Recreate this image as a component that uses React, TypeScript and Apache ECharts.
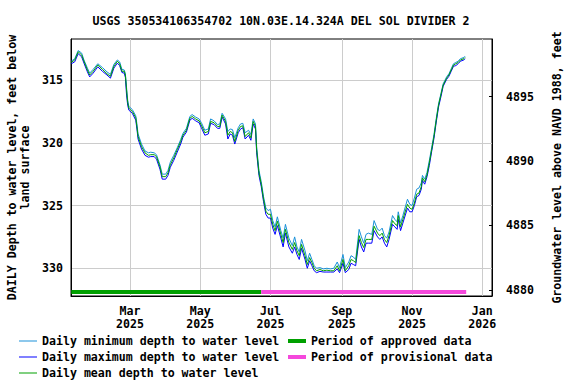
import React, { useEffect, useRef } from 'react';
import * as echarts from 'echarts';

const titleText = 'USGS 350534106354702 10N.03E.14.324A DEL SOL DIVIDER 2';

const dates = [
  '2025-01-09', '2025-01-12', '2025-01-15', '2025-01-18', '2025-01-20', '2025-01-23', '2025-01-25', '2025-01-28',
  '2025-02-01', '2025-02-05', '2025-02-09', '2025-02-12', '2025-02-15', '2025-02-18', '2025-02-20', '2025-02-22',
  '2025-02-24', '2025-02-25', '2025-02-26', '2025-02-27', '2025-02-28', '2025-03-03', '2025-03-06', '2025-03-07',
  '2025-03-08', '2025-03-11', '2025-03-14', '2025-03-17', '2025-03-19', '2025-03-22', '2025-03-24', '2025-03-27',
  '2025-03-29', '2025-04-01', '2025-04-03', '2025-04-05', '2025-04-08', '2025-04-11', '2025-04-14', '2025-04-16',
  '2025-04-19', '2025-04-22', '2025-04-24', '2025-04-27', '2025-04-30', '2025-05-02', '2025-05-05', '2025-05-08',
  '2025-05-10', '2025-05-13', '2025-05-16', '2025-05-18', '2025-05-20', '2025-05-23', '2025-05-25', '2025-05-27',
  '2025-05-29', '2025-05-31', '2025-06-03', '2025-06-05', '2025-06-07', '2025-06-09', '2025-06-12', '2025-06-14',
  '2025-06-16', '2025-06-18', '2025-06-19', '2025-06-21', '2025-06-23', '2025-06-25', '2025-06-27', '2025-06-29',
  '2025-07-01', '2025-07-03', '2025-07-05', '2025-07-07', '2025-07-10', '2025-07-12', '2025-07-14', '2025-07-17',
  '2025-07-20', '2025-07-22', '2025-07-24', '2025-07-26', '2025-07-28', '2025-07-31', '2025-08-02', '2025-08-04',
  '2025-08-06', '2025-08-08', '2025-08-10', '2025-08-13', '2025-08-16', '2025-08-19', '2025-08-22', '2025-08-25',
  '2025-08-28', '2025-08-30', '2025-09-02', '2025-09-04', '2025-09-07', '2025-09-09', '2025-09-11', '2025-09-13',
  '2025-09-16', '2025-09-18', '2025-09-20', '2025-09-22', '2025-09-24', '2025-09-27', '2025-09-29', '2025-10-02',
  '2025-10-04', '2025-10-06', '2025-10-08', '2025-10-10', '2025-10-12', '2025-10-15', '2025-10-17', '2025-10-19',
  '2025-10-20', '2025-10-22', '2025-10-24', '2025-10-28', '2025-10-30', '2025-11-01', '2025-11-03', '2025-11-05',
  '2025-11-07', '2025-11-09', '2025-11-10', '2025-11-12', '2025-11-14', '2025-11-16', '2025-11-18', '2025-11-20',
  '2025-11-22', '2025-11-24', '2025-11-26', '2025-11-28', '2025-12-01', '2025-12-03', '2025-12-05', '2025-12-07',
  '2025-12-09', '2025-12-11', '2025-12-13', '2025-12-16', '2025-12-17',
];

const meanDepth = [
  313.6, 313.4, 312.75, 313.0, 313.5, 314.2, 314.6, 314.3,
  313.8, 314.15, 314.5, 314.7, 313.9, 313.5, 313.7, 314.3,
  314.3, 314.6, 315.8, 316.8, 317.25, 317.5, 318.0, 318.7,
  319.5, 320.3, 320.8, 321.0, 320.95, 320.95, 321.1, 321.9,
  322.7, 322.7, 322.4, 321.75, 321.2, 320.55, 319.9, 319.4,
  319.0, 318.05, 317.9, 318.1, 318.25, 318.6, 319.2, 319.1,
  318.3, 318.4, 318.7, 318.7, 317.8, 318.3, 319.4, 319.1,
  319.2, 319.9, 319.0, 318.7, 318.65, 319.5, 319.2, 319.6,
  318.3, 318.7, 320.55, 322.4, 323.3, 324.5, 325.45, 325.7,
  325.7, 326.5, 327.0, 326.25, 327.3, 327.95, 326.9, 327.95,
  328.5, 327.95, 328.6, 329.0, 328.1, 329.0, 329.7, 329.15,
  329.55, 330.0, 330.2, 330.1, 330.2, 330.15, 330.2, 330.2,
  329.8, 330.2, 329.3, 330.2, 329.8, 329.3, 329.4, 329.55,
  327.4, 327.95, 328.35, 327.7, 327.7, 327.7, 326.65, 327.2,
  327.4, 327.2, 327.7, 327.95, 327.4, 326.2, 326.45, 326.6,
  325.8, 326.7, 326.1, 324.9, 325.2, 325.3, 324.8, 324.1,
  324.0, 323.5, 322.8, 323.1, 322.55, 321.6, 320.55, 319.5,
  318.2, 317.0, 316.2, 315.4, 314.85, 314.6, 314.2, 313.8,
  313.7, 313.6, 313.4, 313.3, 313.2,
];

const minDepth = [
  313.5, 313.3, 312.65, 312.85, 313.4, 314.05, 314.45, 314.15,
  313.7, 314.0, 314.35, 314.55, 313.75, 313.4, 313.55, 314.15,
  314.2, 314.5, 315.6, 316.6, 317.1, 317.35, 317.85, 318.5,
  319.3, 320.1, 320.65, 320.8, 320.75, 320.8, 320.95, 321.75,
  322.5, 322.5, 322.2, 321.55, 321.0, 320.4, 319.75, 319.25,
  318.85, 317.9, 317.75, 317.95, 318.1, 318.4, 319.0, 318.9,
  318.1, 318.25, 318.55, 318.5, 317.65, 318.1, 319.1, 318.9,
  318.95, 319.6, 318.8, 318.5, 318.45, 319.2, 319.0, 319.35,
  318.1, 318.5, 320.3, 322.2, 323.1, 324.3, 325.2, 325.4,
  325.3, 326.2, 326.7, 325.9, 327.0, 327.6, 326.5, 327.6,
  328.2, 327.5, 328.3, 328.7, 327.7, 328.6, 329.4, 328.8,
  329.3, 329.8, 330.0, 329.95, 330.05, 330.0, 330.05, 330.0,
  329.5, 329.95, 328.9, 329.95, 329.5, 329.0, 329.1, 329.3,
  326.9, 327.5, 328.0, 327.3, 327.2, 327.3, 326.2, 326.9,
  327.0, 326.8, 327.4, 327.6, 327.1, 325.8, 326.1, 326.3,
  325.5, 326.4, 325.8, 324.5, 324.9, 325.0, 324.4, 323.7,
  323.6, 323.2, 322.6, 322.9, 322.35, 321.4, 320.4, 319.35,
  318.05, 316.9, 316.1, 315.3, 314.75, 314.5, 314.1, 313.7,
  313.6, 313.5, 313.3, 313.2, 313.1,
];

const maxDepth = [
  313.7, 313.55, 312.9, 313.15, 313.65, 314.35, 314.75, 314.45,
  313.95, 314.3, 314.6, 314.85, 314.05, 313.65, 313.85, 314.4,
  314.45, 314.8, 316.2, 317.0, 317.4, 317.65, 318.2, 318.9,
  319.7, 320.5, 321.0, 321.15, 321.1, 321.1, 321.3, 322.1,
  322.9, 322.9, 322.6, 321.95, 321.4, 320.75, 320.1, 319.55,
  319.15, 318.2, 318.05, 318.25, 318.4, 318.8, 319.4, 319.3,
  318.45, 318.55, 318.85, 318.85, 317.95, 318.5, 319.7, 319.3,
  319.4, 320.1, 319.2, 318.9, 318.8, 319.7, 319.4, 319.8,
  318.5, 318.9, 320.8, 322.6, 323.5, 324.7, 325.7, 326.0,
  326.0, 326.8, 327.3, 326.6, 327.6, 328.3, 327.2, 328.3,
  328.8, 328.3, 328.9, 329.3, 328.4, 329.3, 330.0, 329.4,
  329.8, 330.2, 330.35, 330.25, 330.3, 330.3, 330.3, 330.3,
  330.05, 330.35, 329.6, 330.35, 330.1, 329.6, 329.7, 329.8,
  327.7, 328.3, 328.7, 328.0, 328.0, 328.0, 327.0, 327.5,
  327.7, 327.5, 328.0, 328.3, 327.7, 326.5, 326.7, 326.9,
  326.1, 327.0, 326.4, 325.2, 325.5, 325.5, 325.0, 324.3,
  324.2, 323.7, 323.0, 323.3, 322.7, 321.8, 320.7, 319.65,
  318.35, 317.15, 316.35, 315.5, 314.95, 314.7, 314.3, 313.9,
  313.85, 313.7, 313.5, 313.4, 313.3,
];

const xTickDates = ['2025-03-01', '2025-05-01', '2025-07-01', '2025-09-01', '2025-11-01', '2026-01-01'];
const xTickLabels = ['Mar\n2025', 'May\n2025', 'Jul\n2025', 'Sep\n2025', 'Nov\n2025', 'Jan\n2026'];
const depthTicks = [315, 320, 325, 330];
const elevTicks = [4880, 4885, 4890, 4895];
const approvedPeriod = ['2025-01-09', '2025-06-23'];
const provisionalPeriod = ['2025-06-23', '2025-12-18'];
const periodDepth = 331.9;

const ts = (s: string, h = 0) => {
  const [y, m, d] = s.split('-').map(Number);
  return Date.UTC(y, m - 1, d, h);
};

const FONT = 'DejaVu Sans Mono';
const FS = 11.6;

export default function App() {
  const ref = useRef<HTMLDivElement>(null);
  useEffect(() => {
    if (!ref.current) return;
    document.body.style.margin = '0';
    const chart = echarts.init(ref.current, undefined, { renderer: 'svg' });
    const textBase = { fontFamily: FONT, fontSize: FS, fontWeight: 'bold' as const, color: '#000' };
    const tickTs = xTickDates.map((d) => ts(d));
    const lineSeries = (name: string, vals: number[], color: string, z: number) => ({
      name,
      type: 'line',
      data: dates.map((d, i) => [ts(d), vals[i]]),
      symbol: 'none',
      z,
      lineStyle: { color, width: 1 },
      itemStyle: { color },
    });
    const periodSeries = (name: string, p: string[], color: string) => ({
      name,
      type: 'line',
      data: p.map((d) => [ts(d), periodDepth]),
      symbol: 'none',
      z: 5,
      lineStyle: { color, width: 4 },
      itemStyle: { color },
    });
    const legendBase = {
      orient: 'vertical',
      top: 334,
      padding: 0,
      itemWidth: 18,
      itemGap: 2,
      icon: 'rect',
      textStyle: { ...textBase, lineHeight: 14 },
    };
    chart.setOption({
      animation: false,
      title: {
        text: titleText,
        left: 276,
        textAlign: 'center',
        top: 10,
        textStyle: { ...textBase },
      },
      grid: {
        left: 71, right: 84, top: 39, bottom: 88,
        outerBoundsMode: 'none', containLabel: false,
        show: true, borderColor: '#000', borderWidth: 1, backgroundColor: 'transparent',
      },
      legend: [
        {
          ...legendBase,
          left: 19,
          itemHeight: 1,
          data: ['Daily minimum depth to water level', 'Daily maximum depth to water level', 'Daily mean depth to water level'],
        },
        {
          ...legendBase,
          left: 288,
          itemHeight: 4,
          data: ['Period of approved data', 'Period of provisional data'],
        },
      ],
      xAxis: {
        type: 'value',
        min: ts('2025-01-08', 18),
        max: ts('2026-01-09', 10),
        axisLine: { show: true, onZero: false, lineStyle: { color: '#000', width: 1 } },
        axisTick: { show: false, customValues: tickTs },
        axisLabel: {
          ...textBase,
          customValues: tickTs,
          margin: 8,
          lineHeight: 13,
          formatter: (v: number) => {
            const i = tickTs.indexOf(v);
            return i >= 0 ? xTickLabels[i] : '';
          },
        },
        splitLine: { show: true, lineStyle: { color: '#cccccc', width: 1 } },
      },
      yAxis: [
        {
          type: 'value',
          inverse: true,
          min: 311.73,
          max: 332.21,
          position: 'left',
          name: 'DAILY Depth to water level, feet below\nland surface',
          nameLocation: 'middle',
          nameRotate: 90,
          nameGap: 37,
          nameTextStyle: { ...textBase, lineHeight: 13, align: 'center' },
          axisLine: { show: true, onZero: false, lineStyle: { color: '#000', width: 1 } },
          axisTick: { show: false, customValues: depthTicks },
          axisLabel: { ...textBase, margin: 8, customValues: depthTicks, formatter: (v: number) => String(v) },
          splitLine: { show: true, lineStyle: { color: '#cccccc', width: 1 } },
        },
        {
          type: 'value',
          min: 4879.53,
          max: 4899.47,
          position: 'right',
          name: 'Groundwater level above NAVD 1988, feet',
          nameLocation: 'middle',
          nameRotate: 90,
          nameGap: 59,
          nameTextStyle: { ...textBase, align: 'center' },
          axisLine: { show: true, onZero: false, lineStyle: { color: '#000', width: 1 } },
          axisTick: { show: true, inside: true, length: 3, customValues: elevTicks, lineStyle: { color: '#000' } },
          axisLabel: { ...textBase, margin: 14, customValues: elevTicks, formatter: (v: number) => String(v) },
          splitLine: { show: false },
        },
      ],
      series: [
        lineSeries('Daily minimum depth to water level', minDepth, '#1a90d8', 2),
        lineSeries('Daily maximum depth to water level', maxDepth, '#0000ff', 3),
        lineSeries('Daily mean depth to water level', meanDepth, '#00a000', 4),
        periodSeries('Period of approved data', approvedPeriod, '#00a000'),
        periodSeries('Period of provisional data', provisionalPeriod, '#f548dc'),
      ],
    });
    return () => chart.dispose();
  }, []);
  return <div ref={ref} style={{ width: 576, height: 384 }} />;
}
